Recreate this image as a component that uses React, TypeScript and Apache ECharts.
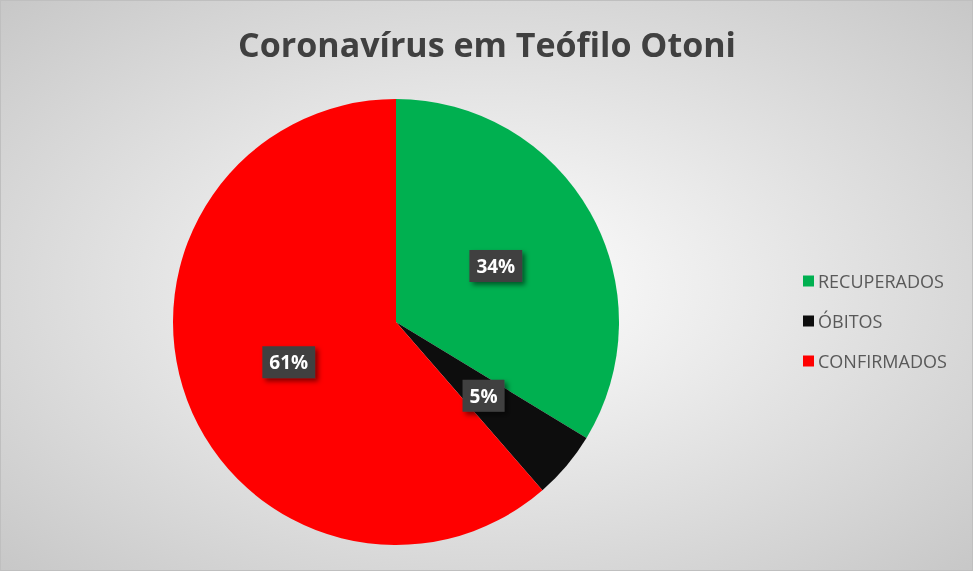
import { useEffect, useRef } from 'react';
import * as echarts from 'echarts';

const categories = ['RECUPERADOS', 'ÓBITOS', 'CONFIRMADOS'];
const values = [33.7, 4.9, 61.4];
const colors = ['#00B050', '#0D0D0D', '#FF0000'];

export default function App() {
  const chartRef = useRef<HTMLDivElement>(null);

  useEffect(() => {
    if (!chartRef.current) return;
    const chart = echarts.init(chartRef.current, undefined, { renderer: 'svg' });

    const option: echarts.EChartsOption = {
      animation: false,
      backgroundColor: {
        type: 'radial',
        x: 0.5,
        y: 0.5,
        r: 0.75,
        colorStops: [
          { offset: 0, color: '#ffffff' },
          { offset: 1, color: '#c4c4c4' },
        ],
      } as any,
      title: {
        text: 'Coronavírus em Teófilo Otoni',
        left: 481,
        top: 21,
        textAlign: 'center',
        textStyle: {
          fontFamily: 'Open Sans',
          fontWeight: 'bold',
          fontSize: 34,
          color: '#404040',
        },
      },
      legend: {
        orient: 'vertical',
        left: 802,
        top: 268,
        padding: 0,
        itemWidth: 11,
        itemHeight: 11,
        itemGap: 16,
        icon: 'rect',
        data: categories,
        textStyle: {
          fontFamily: 'Open Sans',
          fontSize: 18,
          lineHeight: 24,
          color: '#595959',
          padding: [0, 0, 0, -1],
        },
      },
      series: [
        {
          type: 'pie',
          center: [395, 321],
          radius: 223,
          startAngle: 90,
          clockwise: true,
          percentPrecision: 0,
          legendHoverLink: false,
          label: {
            show: true,
            position: 'inside',
            formatter: '{d}%',
            fontFamily: 'Open Sans',
            fontWeight: 'bold',
            fontSize: 19,
            color: '#ffffff',
            backgroundColor: '#404040',
            padding: [7, 7, 6, 7],
            shadowColor: 'rgba(0,0,0,0.5)',
            shadowBlur: 5,
            shadowOffsetX: 3,
            shadowOffsetY: 3,
          },
          labelLine: { show: false },
          data: categories.map((name, i) => ({
            name,
            value: values[i],
            itemStyle: { color: colors[i] },
          })),
        },
      ],
    };

    chart.setOption(option);
    return () => chart.dispose();
  }, []);

  return (
    <div
      ref={chartRef}
      style={{
        position: 'fixed',
        left: 0,
        top: 0,
        width: 973,
        height: 571,
        boxSizing: 'border-box',
        border: '1px solid #bfbfbf',
      }}
    />
  );
}
